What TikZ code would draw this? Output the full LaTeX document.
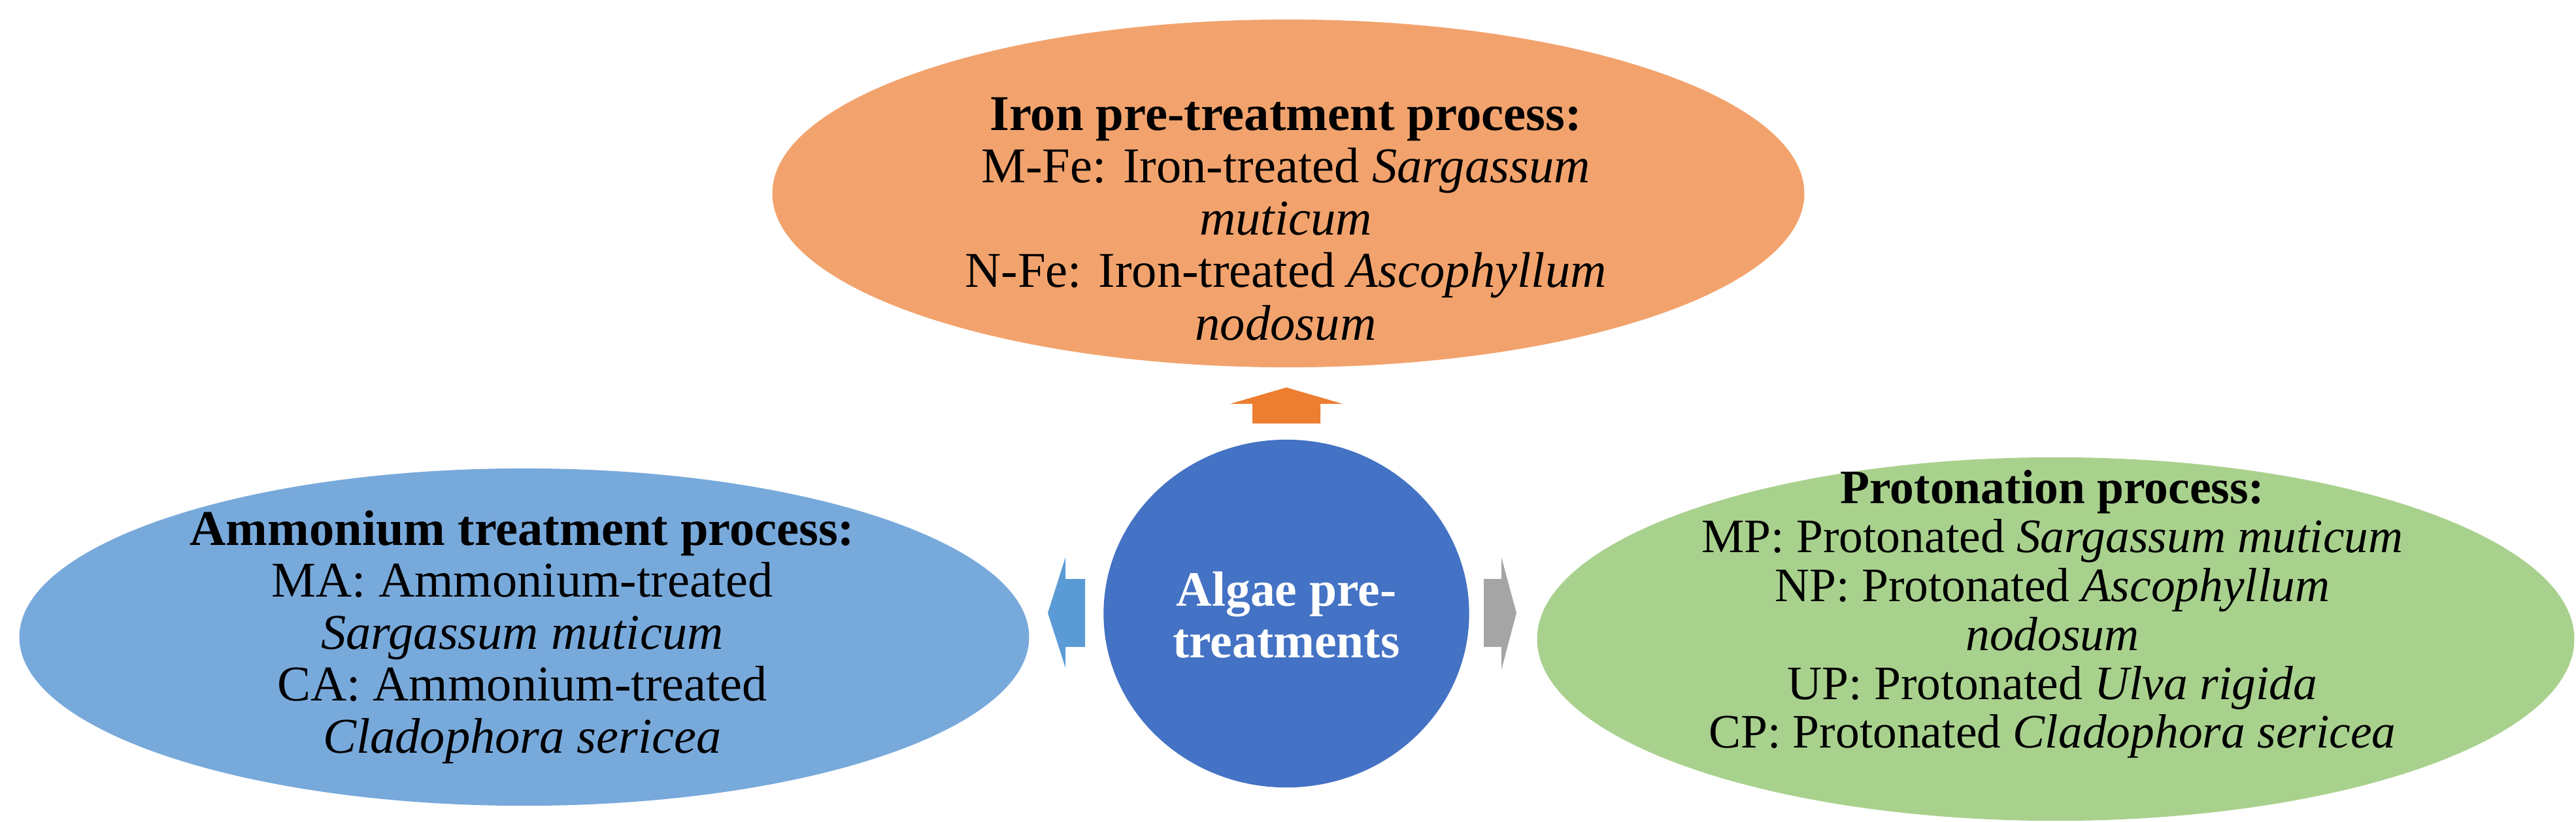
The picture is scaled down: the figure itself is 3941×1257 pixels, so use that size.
\documentclass[tikz,border=0pt]{standalone}
\usepackage{fontspec}
\setmainfont{Liberation Serif}
\usetikzlibrary{shapes.geometric}
\definecolor{ironFill}{HTML}{F2A36D}
\definecolor{ironArrow}{HTML}{ED7D31}
\definecolor{centerFill}{HTML}{4472C4}
\definecolor{ammFill}{HTML}{78A9DB}
\definecolor{ammArrow}{HTML}{5B9BD5}
\definecolor{protFill}{HTML}{A9D18E}
\definecolor{protArrow}{HTML}{A5A5A5}
\begin{document}
\begin{tikzpicture}[x=0.01cm,y=-0.01cm,
  blob/.style={ellipse, inner sep=0pt, outer sep=0pt, draw=none},
  lbl/.style={align=center, inner sep=0pt, text=black},
  bigtext/.style={font=\fontsize{21.8}{22.8}\selectfont},
  midtext/.style={font=\fontsize{21.75}{22.6}\selectfont},
  smalltext/.style={font=\fontsize{20.9}{21.3}\selectfont}]
\useasboundingbox (0,0) rectangle (3941,1257);
% ellipses
\node[blob, fill=ironFill, minimum width=15.78cm, minimum height=5.32cm] (iron) at (1971,296) {};
\node[blob, fill=ammFill, minimum width=15.44cm, minimum height=5.16cm] (amm) at (802,975) {};
\node[blob, fill=protFill, minimum width=15.86cm, minimum height=5.56cm] (prot) at (3145,978) {};
\node[blob, fill=centerFill, minimum width=5.59cm, minimum height=5.32cm] (alg) at (1968,939) {};
% block arrows
\fill[ironArrow] (1916,648) -- (1916,618) -- (1882,618) -- (1968,593) -- (2054,618) -- (2020,618) -- (2020,648) -- cycle;
\fill[ammArrow] (1660,886) -- (1630,886) -- (1630,853) -- (1603,938) -- (1630,1022) -- (1630,990) -- (1660,990) -- cycle;
\fill[protArrow] (2270,886) -- (2297,886) -- (2297,853) -- (2320,938) -- (2297,1025) -- (2297,990) -- (2270,990) -- cycle;
% texts
\node[lbl, bigtext] (irontxt) at (1967,335) {\textbf{Iron pre-treatment process:}\\
M-Fe: Iron-treated \textit{Sargassum}\\ \textit{muticum}\\
N-Fe: Iron-treated \textit{Ascophyllum}\\ \textit{nodosum}};
\node[lbl, midtext] (ammtxt) at (799,975) {\textbf{Ammonium treatment process:}\\
MA: Ammonium-treated\\ \textit{Sargassum muticum}\\
CA: Ammonium-treated\\ \textit{Cladophora sericea}};
\node[lbl, smalltext] (prottxt) at (3140,940) {\textbf{Protonation process:}\\
MP: Protonated \textit{Sargassum muticum}\\
NP: Protonated \textit{Ascophyllum}\\ \textit{nodosum}\\
UP: Protonated \textit{Ulva rigida}\\
CP: Protonated \textit{Cladophora sericea}};
\node[lbl, text=white, font=\fontsize{21.5}{22.3}\selectfont\bfseries] (algtxt) at (1968,941) {Algae pre-\\treatments};
\end{tikzpicture}
\end{document}
